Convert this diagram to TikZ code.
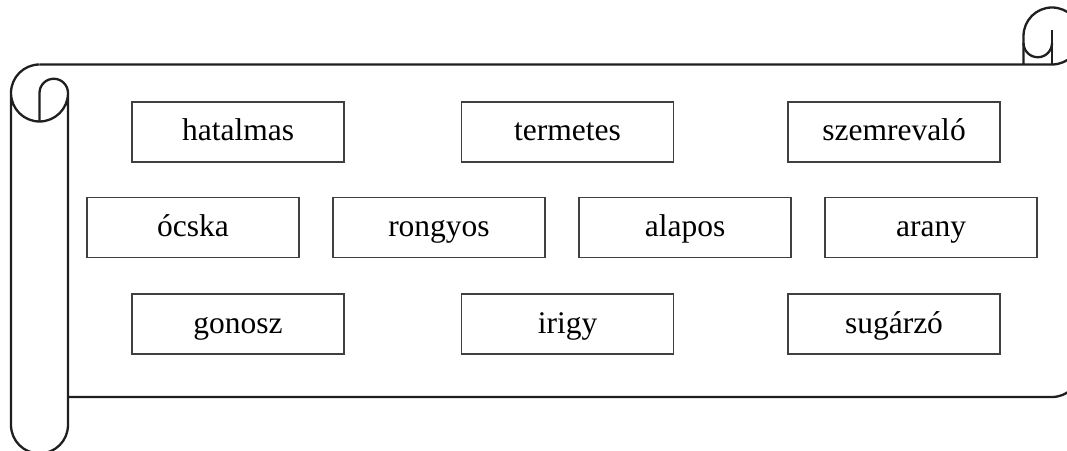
\documentclass[tikz,border=0pt]{standalone}
\usepackage{fontspec}
\setmainfont{Liberation Serif}
\begin{document}
\begin{tikzpicture}[x=1pt,y=1pt,
  scrollline/.style={draw=black!88,line width=2.3pt,line join=round},
  wordbox/.style={draw=black!75,line width=1.2pt,minimum width=212pt,minimum height=60pt,inner sep=0pt,
    text height=24pt,text depth=6pt,
    font=\fontsize{31.5}{36}\selectfont}]
\useasboundingbox (0,0) rectangle (1067,450);
\clip (0,0) rectangle (1067,450);
% scroll body
\draw[scrollline] (39.5,385.5) -- (1052,385.5) arc[start angle=-90,end angle=180,radius=28.5] -- (1023.5,385.5);
\draw[scrollline] (1080.5,414) -- (1080.5,81.5) arc[start angle=0,end angle=-90,radius=28.5] -- (68,53);
% left roll
\draw[scrollline] (39.5,385.5) arc[start angle=90,end angle=270,radius=28.5]
  arc[start angle=-90,end angle=0,radius=28.5] -- (68,25)
  arc[start angle=0,end angle=-180,radius=28.5] -- (11,357);
\draw[scrollline] (39.5,328.5) -- (39.5,357) arc[start angle=180,end angle=0,radius=14.25];
% right roll curl
\draw[scrollline] (1023.5,407) arc[start angle=180,end angle=360,radius=14.25];
\draw[scrollline] (1052,385.5) -- (1052,420);
% words
\node[wordbox] (w1) at (238,318) {hatalmas};
\node[wordbox] (w2) at (567.5,318) {termetes};
\node[wordbox] (w3) at (894,318) {szemrevaló};
\node[wordbox] (w4) at (193,222.5) {ócska};
\node[wordbox] (w5) at (439,222.5) {rongyos};
\node[wordbox] (w6) at (685,222.5) {alapos};
\node[wordbox] (w7) at (931,222.5) {arany};
\node[wordbox] (w8) at (238,126) {gonosz};
\node[wordbox] (w9) at (567.5,126) {irigy};
\node[wordbox] (w10) at (894,126) {sugárzó};
\end{tikzpicture}
\end{document}
